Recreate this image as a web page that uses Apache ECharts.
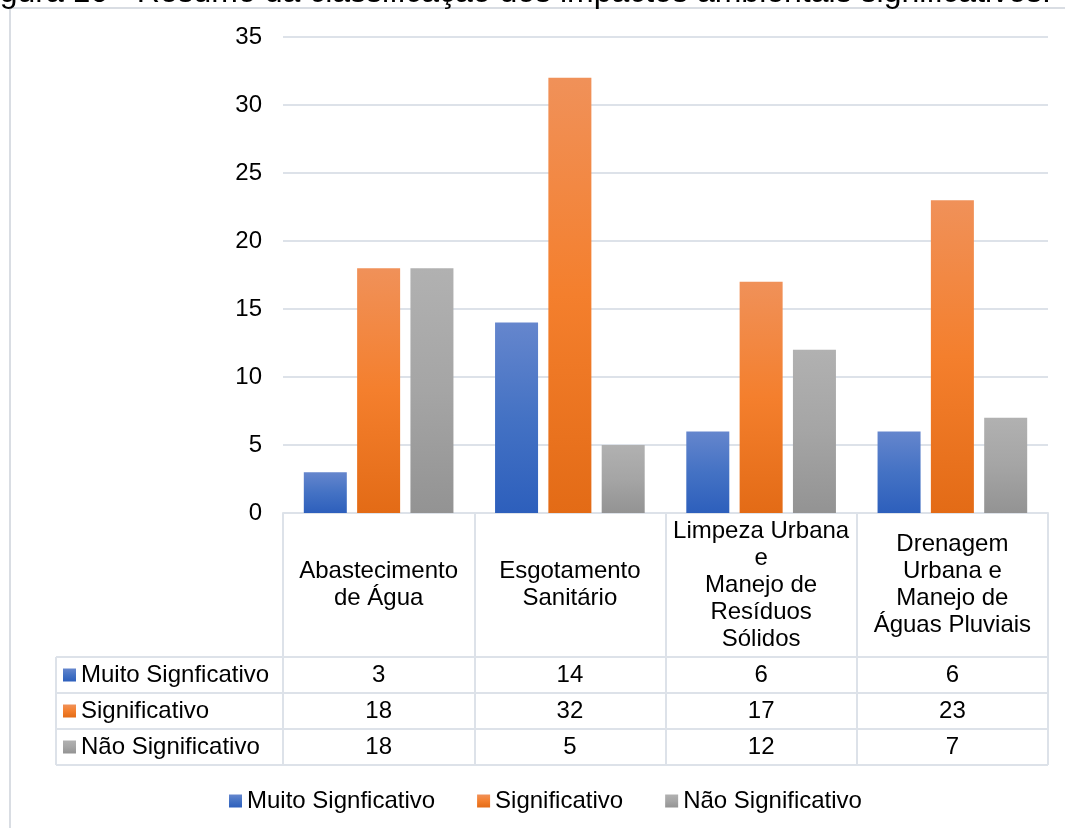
<!DOCTYPE html>
<html>
<head>
<meta charset="utf-8">
<script src="https://cdn.jsdelivr.net/npm/echarts@6/dist/echarts.min.js"></script>
<style>
html,body{margin:0;padding:0;background:#fff;}
#chart{width:1065px;height:828px;}
</style>
</head>
<body>
<div id="chart"></div>
<script>
const categories = ['Abastecimento\nde Água', 'Esgotamento\nSanitário', 'Limpeza Urbana\ne\nManejo de\nResíduos\nSólidos', 'Drenagem\nUrbana e\nManejo de\nÁguas Pluviais'];
const seriesNames = ['Muito Signficativo', 'Significativo', 'Não Significativo'];
const muitoSignificativo = [3, 14, 6, 6];
const significativo = [18, 32, 17, 23];
const naoSignificativo = [18, 5, 12, 7];
const yTicks = [0, 5, 10, 15, 20, 25, 30, 35];
const caption = 'Figura 10 - Resumo da classificação dos impactos ambientais significativos:';

const FONT = "'Liberation Sans', Arial, sans-serif";
const FS = 24;
const BORDER = '#dde2e9';
function grad(top, mid, bot) {
  return { type: 'linear', x: 0, y: 0, x2: 0, y2: 1,
    colorStops: [{ offset: 0, color: top }, { offset: 0.5, color: mid }, { offset: 1, color: bot }] };
}
const colors = [
  grad('#6586cd', '#4472c4', '#2d5fbc'),
  grad('#f09159', '#f47f2d', '#e36b16'),
  grad('#b1b1b1', '#a5a5a5', '#939393')
];
const values = [muitoSignificativo, significativo, naoSignificativo];

const chart = echarts.init(document.getElementById('chart'), null, { renderer: 'canvas' });
const option = {
  animation: false,
  backgroundColor: '#ffffff',
  textStyle: { fontFamily: FONT },
  grid: { left: 283, right: 17, top: 37, bottom: 315, containLabel: false },
  legend: {
    data: seriesNames,
    left: 224, top: 784,
    icon: 'rect', itemWidth: 13, itemHeight: 13, itemGap: 42,
    textStyle: { fontSize: FS, color: '#000', fontFamily: FONT }
  },
  xAxis: {
    type: 'category',
    data: categories,
    axisLine: { show: true, lineStyle: { color: BORDER, width: 2 } },
    axisTick: { show: true, length: 252, lineStyle: { color: BORDER, width: 2 } },
    axisLabel: {
      interval: 0, margin: 72, verticalAlign: 'middle', align: 'center',
      fontSize: FS, lineHeight: 27, color: '#000', fontFamily: FONT
    },
    splitLine: { show: false }
  },
  yAxis: {
    type: 'value', min: 0, max: 35, interval: 5,
    axisLine: { show: false }, axisTick: { show: false },
    axisLabel: { margin: 21, fontSize: FS, color: '#000', fontFamily: FONT,
      formatter: v => (yTicks.indexOf(v) >= 0 ? String(v) : '') },
    splitLine: { lineStyle: { color: BORDER, width: 2 } }
  },
  series: seriesNames.map((name, i) => ({
    name, type: 'bar', data: values[i], barWidth: 43, barGap: '24%',
    itemStyle: { color: colors[i] }
  }))
};
chart.setOption(option);

// data table and frame drawn from axis positions
const x0 = chart.convertToPixel({ xAxisIndex: 0 }, 0);
const x1 = chart.convertToPixel({ xAxisIndex: 0 }, 1);
const band = x1 - x0;
const rightEdge = chart.convertToPixel({ xAxisIndex: 0 }, categories.length - 1) + band / 2;
const yZero = chart.convertToPixel({ yAxisIndex: 0 }, 0);
const headerH = 144, rowH = 36;
const tableLeft = 56;
const g = [];
const rowTop = yZero + headerH;
for (let r = 0; r <= 3; r++) {
  const y = rowTop + r * rowH;
  g.push({ type: 'line', shape: { x1: tableLeft, y1: y, x2: rightEdge, y2: y }, style: { stroke: BORDER, lineWidth: 2 }, silent: true });
}
g.push({ type: 'line', shape: { x1: tableLeft, y1: rowTop, x2: tableLeft, y2: rowTop + 3 * rowH }, style: { stroke: BORDER, lineWidth: 2 }, silent: true });
for (let r = 0; r < 3; r++) {
  const cy = rowTop + r * rowH + rowH / 2;
  g.push({ type: 'rect', shape: { x: 63, y: cy - 6.5, width: 13, height: 13 }, style: { fill: colors[r] }, silent: true });
  g.push({ type: 'text', x: 81, y: cy, style: { text: seriesNames[r], fontSize: FS, fontFamily: FONT, fill: '#000', verticalAlign: 'middle', align: 'left' }, silent: true });
  for (let c = 0; c < categories.length; c++) {
    const cx = chart.convertToPixel({ xAxisIndex: 0 }, c);
    g.push({ type: 'text', x: cx, y: cy, style: { text: String(values[r][c]), fontSize: FS, fontFamily: FONT, fill: '#000', verticalAlign: 'middle', align: 'center' }, silent: true });
  }
}
// outer frame of chart area
g.push({ type: 'line', shape: { x1: 10, y1: 8, x2: 1065, y2: 8 }, style: { stroke: '#d9dde3', lineWidth: 2 }, silent: true });
g.push({ type: 'line', shape: { x1: 10, y1: 8, x2: 10, y2: 828 }, style: { stroke: '#d9dde3', lineWidth: 2 }, silent: true });
// caption cut off at the top
g.push({ type: 'text', x: -27, y: 9, style: { text: caption, fontSize: 32, fontFamily: FONT, fill: '#000', verticalAlign: 'bottom', align: 'left' }, silent: true });
chart.setOption({ graphic: g });
</script>
</body>
</html>
